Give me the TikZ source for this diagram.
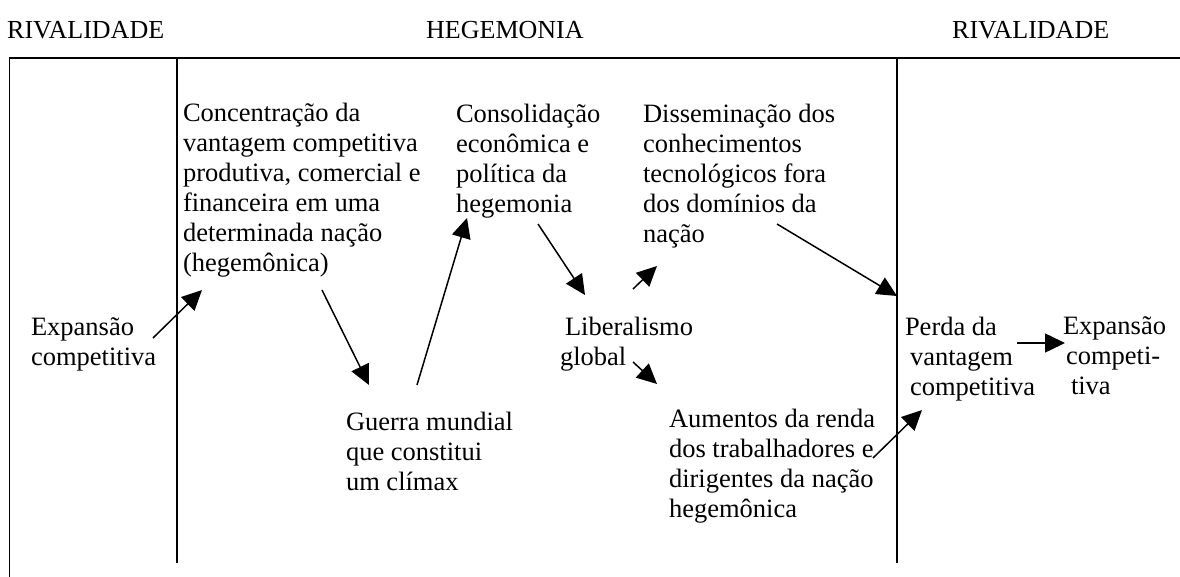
\documentclass[tikz,border=0pt]{standalone}
\usepackage{fontspec}
\setmainfont{Liberation Serif}
\usetikzlibrary{arrows.meta}
\tikzset{
  txt/.style={anchor=north west, inner sep=0pt, outer sep=0pt, align=left,
    font=\fontsize{26.5}{30}\selectfont, execute at begin node=\strut},
  hdr/.style={anchor=base west, inner sep=0pt, font=\fontsize{26}{30}\selectfont},
  frame/.style={line width=1.6pt},
  arr/.style={line width=1.5pt, -{Triangle[length=20pt,width=19pt]}},
}
\begin{document}
\begin{tikzpicture}[x=1pt,y=-1pt]
\useasboundingbox (0,0) rectangle (1180,577);
% headers
\node[hdr] (h1) at (7,39) {RIVALIDADE};
\node[hdr] (h2) at (426,39) {HEGEMONIA};
\node[hdr] (h3) at (952,39) {RIVALIDADE};
% frame
\coordinate (tl) at (9.3,58);
\coordinate (tr) at (1180,58);
\coordinate (bl) at (9.3,577);
\coordinate (v1t) at (177,58);
\coordinate (v1b) at (177,563);
\coordinate (v2t) at (897,58);
\coordinate (v2b) at (897,563);
\draw[frame] (bl) -- (tl) -- (tr);
\draw[frame] (v1t) -- (v1b);
\draw[frame] (v2t) -- (v2b);
% text blocks (north = baseline - 21)
\node[txt] (exp1) at (31,318) {Expansão\\competitiva};
\node[txt] (conc) at (183,103) {Concentração da\\vantagem competitiva\\produtiva, comercial e\\financeira em uma\\determinada nação\\(hegemônica)};
\node[txt] (guer) at (346,412) {Guerra mundial\\que constitui\\um clímax};
\node[txt] (cons) at (456,104) {Consolidação\\econômica e\\política da\\hegemonia};
\node[txt] (diss) at (643,104) {Disseminação dos\\conhecimentos\\tecnológicos fora\\dos domínios da\\nação};
\node[txt] (lib) at (560,317) {\hspace*{5pt}Liberalismo\\global};
\node[txt] (aum) at (669,409) {Aumentos da renda\\dos trabalhadores e\\dirigentes da nação\\hegemônica};
\node[txt] (perda) at (905,317) {Perda da\\\hspace*{5pt}vantagem\\\hspace*{5pt}competitiva};
\node[txt] (exp2) at (1063,317) {Expansão\\\hspace*{3pt}competi-\\\hspace*{8pt}tiva};
% arrow end points
\coordinate (a1s) at (153,338);
\coordinate (a1e) at (202,290);
\coordinate (a2s) at (322,290);
\coordinate (a2e) at (369,385);
\coordinate (a3s) at (417,385);
\coordinate (a3e) at (467,218);
\coordinate (a4s) at (538,224);
\coordinate (a4e) at (585,295);
\coordinate (a5s) at (633,289);
\coordinate (a5e) at (657,266);
\coordinate (a6s) at (777,224);
\coordinate (a6e) at (897,296);
\coordinate (a7s) at (633,362);
\coordinate (a7e) at (657,384);
\coordinate (a8s) at (873,458);
\coordinate (a8e) at (922,410);
\coordinate (a9s) at (1017,343);
\coordinate (a9e) at (1065,343);
\draw[arr] (a1s) -- (a1e);
\draw[arr] (a2s) -- (a2e);
\draw[arr] (a3s) -- (a3e);
\draw[arr] (a4s) -- (a4e);
\draw[arr] (a5s) -- (a5e);
\draw[arr] (a6s) -- (a6e);
\draw[arr] (a7s) -- (a7e);
\draw[arr] (a8s) -- (a8e);
\draw[arr] (a9s) -- (a9e);
\end{tikzpicture}
\end{document}
